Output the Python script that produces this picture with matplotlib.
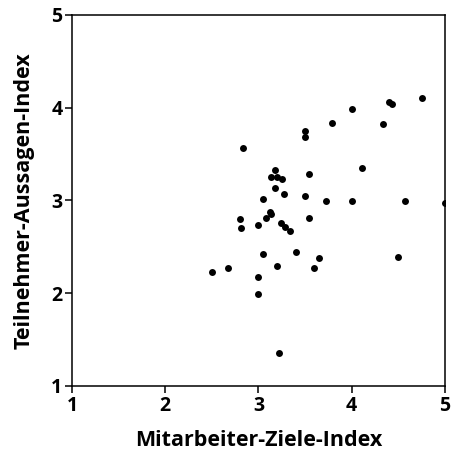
import matplotlib
matplotlib.use("Agg")
import matplotlib.pyplot as plt

# Index values per participant
mitarbeiter_ziele = [4.75, 4.40, 4.43, 4.00, 3.79, 4.34, 3.50, 3.50, 2.83, 4.11,
                     3.18, 3.14, 3.20, 3.25, 3.54, 3.18, 3.27, 3.50, 3.05, 3.72,
                     4.00, 4.57, 5.00, 3.12, 3.14, 3.08, 3.54, 2.80, 2.81, 3.00,
                     3.24, 3.29, 3.34, 3.05, 3.40, 3.65, 4.50, 3.20, 3.60, 3.00,
                     2.50, 2.67, 3.00, 3.22]
teilnehmer_aussagen = [4.11, 4.06, 4.04, 3.99, 3.83, 3.82, 3.75, 3.68, 3.57, 3.35,
                       3.33, 3.25, 3.25, 3.23, 3.29, 3.13, 3.07, 3.05, 3.02, 2.99,
                       2.99, 2.99, 2.97, 2.87, 2.85, 2.81, 2.81, 2.80, 2.70, 2.73,
                       2.76, 2.71, 2.67, 2.42, 2.44, 2.38, 2.39, 2.29, 2.27, 2.17,
                       2.23, 2.27, 1.99, 1.36]
ticks = [1, 2, 3, 4, 5]

plt.rcParams["font.family"] = ["Open Sans", "DejaVu Sans"]
plt.rcParams["font.weight"] = "bold"

fig = plt.figure(figsize=(4.53, 4.54), dpi=100)
ax = fig.add_axes([0.159, 0.150, 0.823, 0.817])

ax.scatter(mitarbeiter_ziele, teilnehmer_aussagen, s=25, color="black",
           linewidths=0, zorder=3)

ax.set_xlim(1, 5)
ax.set_ylim(1, 5)
ax.set_xticks(ticks)
ax.set_yticks(ticks)
ax.tick_params(direction="out", length=5, width=1.1, labelsize=14, pad=2)
for lab in ax.get_xticklabels() + ax.get_yticklabels():
    lab.set_fontweight("bold")
for sp in ax.spines.values():
    sp.set_linewidth(1.1)

ax.set_xlabel("Mitarbeiter-Ziele-Index", fontsize=15.5, fontweight="bold", labelpad=10)
ax.set_ylabel("Teilnehmer-Aussagen-Index", fontsize=15.5, fontweight="bold", labelpad=12)

fig.savefig("out.png", dpi=100)
